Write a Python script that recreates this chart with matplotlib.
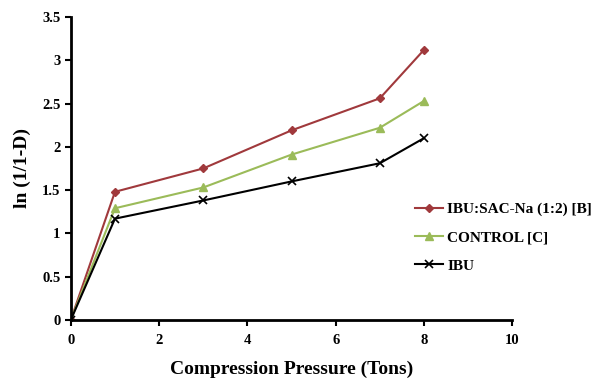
import matplotlib.pyplot as plt

pressure = [0, 1, 3, 5, 7, 8]
ibu_sac = [0, 1.48, 1.75, 2.19, 2.56, 3.12]
control = [0, 1.29, 1.53, 1.91, 2.22, 2.53]
ibu = [0, 1.17, 1.38, 1.60, 1.81, 2.10]

plt.rcParams["font.family"] = ["Liberation Serif", "DejaVu Serif"]
plt.rcParams["font.weight"] = "bold"

fig = plt.figure(figsize=(5.95, 3.85), dpi=100)
ax = fig.add_axes([0.119, 0.169, 0.742, 0.787])

ax.plot(pressure, ibu_sac, color="#a0393c", lw=1.5, marker="D", ms=4,
        label="IBU:SAC-Na (1:2) [B]")
ax.plot(pressure, control, color="#9bbb59", lw=1.5, marker="^", ms=6,
        label="CONTROL [C]")
ax.plot(pressure, ibu, color="black", lw=1.5, marker="x", ms=6, mew=1.2,
        label="IBU")

ax.set_xlim(0, 10)
ax.set_ylim(0, 3.5)
ax.set_xticks([0, 2, 4, 6, 8, 10])
ax.set_yticks([0, 0.5, 1, 1.5, 2, 2.5, 3, 3.5])
ax.set_yticklabels(["0", "0.5", "1", "1.5", "2", "2.5", "3", "3.5"])

for side in ["top", "right"]:
    ax.spines[side].set_visible(False)
for side in ["left", "bottom"]:
    ax.spines[side].set_linewidth(2)
ax.tick_params(width=1.5, length=4, labelsize=10.5)
ax.tick_params(axis="x", pad=6)

ax.set_xlabel("Compression Pressure (Tons)", fontsize=14, fontweight="bold",
              labelpad=10)
ax.set_ylabel("ln (1/1-D)", fontsize=14, fontweight="bold", labelpad=8)

fig.legend(loc="upper left", bbox_to_anchor=(0.675, 0.51), frameon=False,
           fontsize=11, handlelength=1.8, handletextpad=0.3, labelspacing=0.95)

plt.savefig("out.png", dpi=100)
